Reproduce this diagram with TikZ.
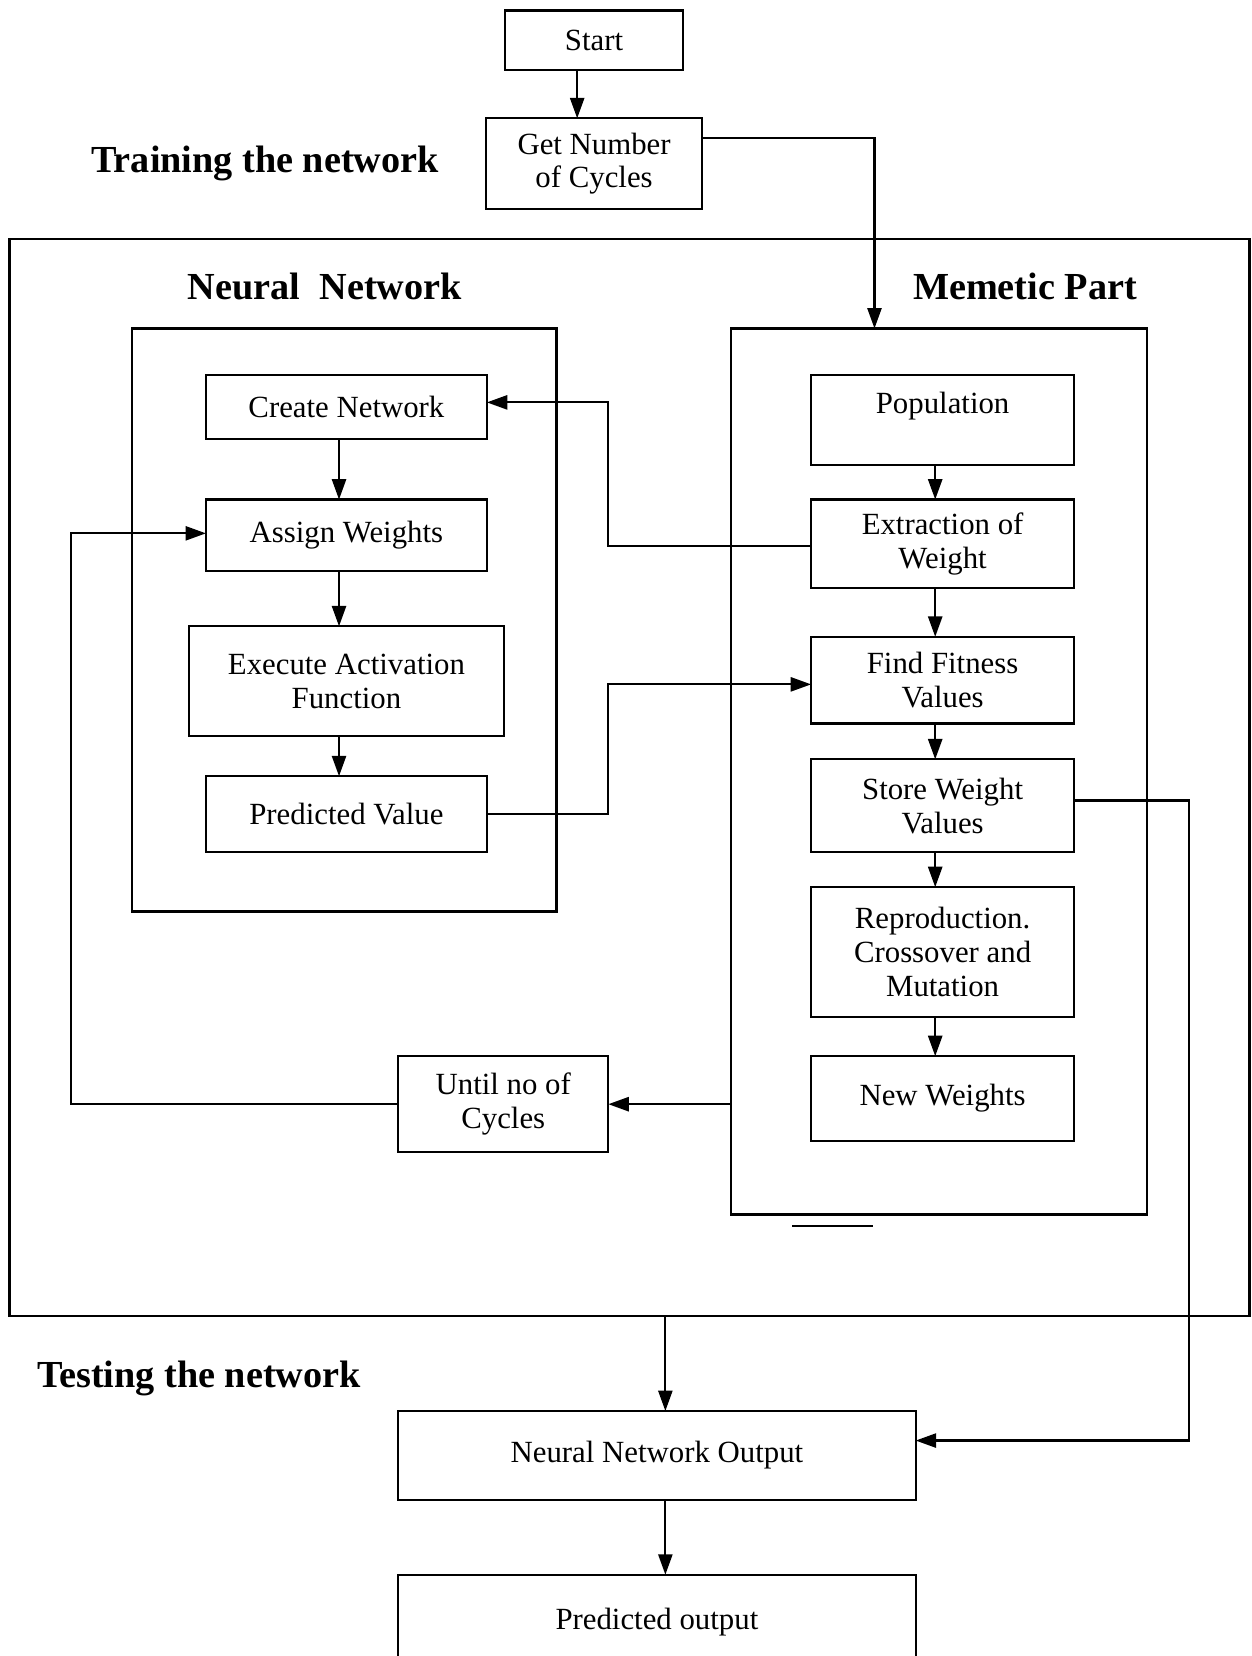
\documentclass[tikz,border=0pt]{standalone}
\usepackage{fontspec}
\setmainfont{Liberation Serif}
\usetikzlibrary{arrows.meta,positioning,calc}
\tikzset{
  stepbox/.style={rectangle,draw,line width=0.6pt,align=center,outer sep=0pt,
    font=\fontsize{8.3}{9.1}\selectfont,inner sep=2pt},
  framebox/.style={rectangle,draw,line width=0.6pt,inner sep=0pt,outer sep=0pt},
  heading/.style={font=\fontsize{10.3}{12}\selectfont\bfseries},
  flow/.style={-{Triangle[length=5.5pt,width=3.8pt]},line width=0.6pt},
  link/.style={line width=0.6pt},
}

\begin{document}
\begin{tikzpicture}
  \useasboundingbox (0,0) rectangle (11.85,-15.68);
  % top: start and cycle count
  \node[stepbox,minimum width=1.69cm,minimum height=0.56cm] (start) at (5.625,-0.38) {Start};
  \node[stepbox,minimum width=2.05cm,minimum height=0.86cm,below=0.46 of start] (gn) {Get Number\\of Cycles};
  \node[heading] (train) at (2.51,-1.55) {Training the network};
  % frames
  \node[framebox,minimum width=11.74cm,minimum height=10.20cm] (outer) at (5.96,-7.36) {};
  \node[framebox,minimum width=4.02cm,minimum height=5.52cm] (nnframe) at (3.26,-5.87) {};
  \node[framebox,minimum width=3.94cm,minimum height=8.39cm] (mframe) at (8.89,-7.305) {};
  \node[heading] (nnhead) at (3.075,-2.71) {Neural~\ Network};
  \node[heading] (mhead) at (9.705,-2.71) {Memetic Part};
  % neural network column
  \node[stepbox,minimum width=2.66cm,minimum height=0.61cm] (cn) at (3.28,-3.855) {Create Network};
  \node[stepbox,minimum width=2.66cm,minimum height=0.68cm,below=0.57 of cn] (aw) {Assign Weights};
  \node[stepbox,minimum width=2.98cm,minimum height=1.04cm,below=0.52 of aw] (ea) {Execute Activation\\Function};
  \node[stepbox,minimum width=2.66cm,minimum height=0.72cm,below=0.38 of ea] (pv) {Predicted Value};
  % memetic column
  \node[stepbox,minimum width=2.49cm,minimum height=0.85cm] (pop) at (8.925,-3.975) {Population\\\mbox{}};
  \node[stepbox,minimum width=2.49cm,minimum height=0.84cm,below=0.33 of pop] (ew) {Extraction of\\Weight};
  \node[stepbox,minimum width=2.49cm,minimum height=0.82cm,below=0.46 of ew] (ff) {Find Fitness\\Values};
  \node[stepbox,minimum width=2.49cm,minimum height=0.88cm,below=0.34 of ff] (sw) {Store Weight\\Values};
  \node[stepbox,minimum width=2.49cm,minimum height=1.23cm,below=0.33 of sw] (rc) {Reproduction.\\Crossover and\\Mutation};
  \node[stepbox,minimum width=2.49cm,minimum height=0.80cm,below=0.37 of rc] (nw) {New Weights};
  \node[stepbox,minimum width=1.99cm,minimum height=0.91cm] (until) at (4.765,-10.455) {Until no of\\Cycles};
  % testing part
  \node[heading] (test) at (1.885,-13.05) {Testing the network};
  \node[stepbox,minimum width=4.90cm,minimum height=0.84cm] (nno) at (6.22,-13.78) {Neural Network Output};
  \node[stepbox,minimum width=4.90cm,minimum height=0.90cm,below=0.71 of nno] (po) {Predicted output};

  % connectors
  \draw[flow] ($(start.south)+(-0.16,0)$) -- ($(gn.north)+(-0.16,0)$);
  \draw[flow] ($(gn.east)+(0,0.24)$) -| ($(mframe.north)+(-0.61,0)$);
  \draw[flow] ([xshift=-0.07cm]cn.south) -- ([xshift=-0.07cm]aw.north);
  \draw[flow] ([xshift=-0.07cm]aw.south) -- ([xshift=-0.07cm]ea.north);
  \draw[flow] ([xshift=-0.07cm]ea.south) -- ([xshift=-0.07cm]pv.north);
  \draw[flow] ([xshift=-0.07cm]pop.south) -- ([xshift=-0.07cm]ew.north);
  \draw[flow] ([xshift=-0.07cm]ew.south) -- ([xshift=-0.07cm]ff.north);
  \draw[flow] ([xshift=-0.07cm]ff.south) -- ([xshift=-0.07cm]sw.north);
  \draw[flow] ([xshift=-0.07cm]sw.south) -- ([xshift=-0.07cm]rc.north);
  \draw[flow] ([xshift=-0.07cm]rc.south) -- ([xshift=-0.07cm]nw.north);
  \draw[flow] ($(ew.west)+(0,-0.02)$) -| ($(cn.east)+(1.15,0.045)$) -- ($(cn.east)+(0,0.045)$);
  \draw[flow] (pv.east) -| ($(ff.west)+(-1.92,-0.04)$) -- ($(ff.west)+(0,-0.04)$);
  \draw[flow] (until.east -| mframe.west) -- (until.east);
  \draw[flow] (until.west) -| ($(aw.west)+(-1.28,0.02)$) -- ($(aw.west)+(0,0.02)$);
  \draw[flow] ($(sw.east)+(0,0.05)$) -| ($(nno.east)+(2.59,0.14)$) -- ($(nno.east)+(0,0.14)$);
  \draw[flow] ($(nno.north |- outer.south)+(0.08,0)$) -- ($(nno.north)+(0.08,0)$);
  \draw[flow] ($(nno.south)+(0.08,0)$) -- ($(po.north)+(0.08,0)$);
  \draw[link] (7.50,-11.61) -- (8.27,-11.61);
\end{tikzpicture}
\end{document}
